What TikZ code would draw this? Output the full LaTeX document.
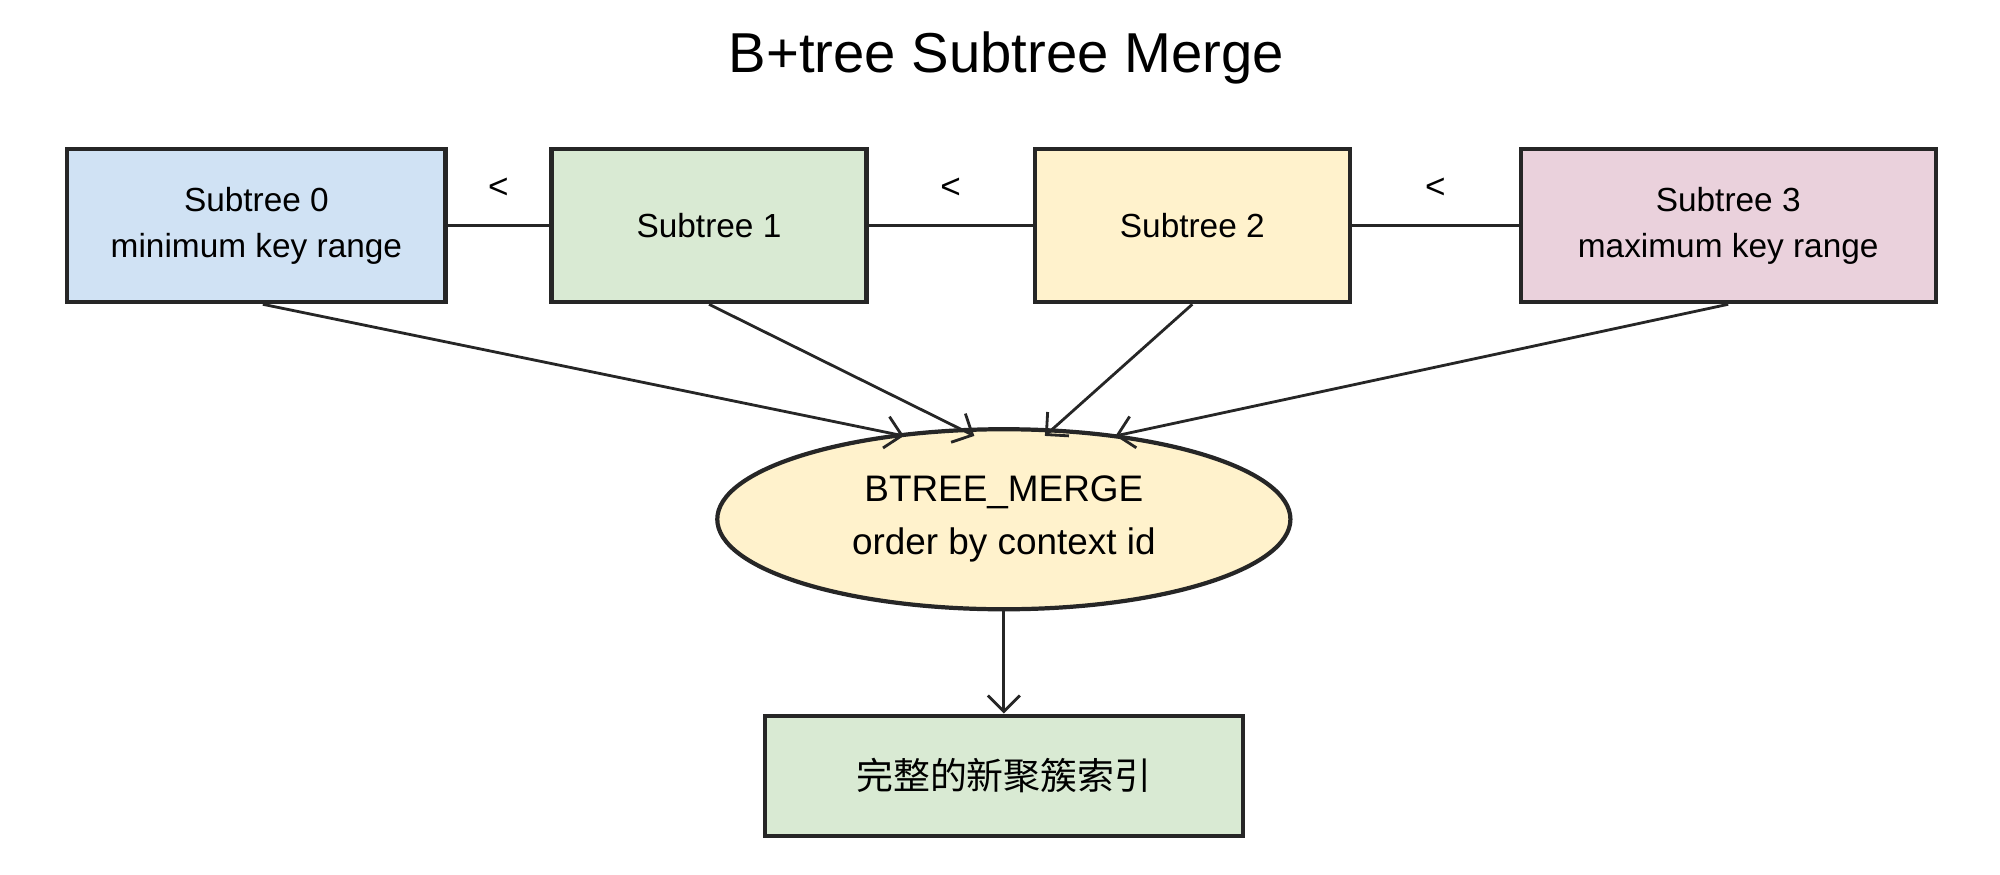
\documentclass[tikz,border=0pt]{standalone}
\usepackage{fontspec}
\setmainfont{Liberation Sans}
\newfontfamily\cjk{Noto Sans CJK SC}
\usetikzlibrary{arrows.meta}
\usetikzlibrary{shapes.geometric}
\usetikzlibrary{positioning}
\definecolor{sblue}{HTML}{D0E2F4}
\definecolor{sgreen}{HTML}{D9EAD3}
\definecolor{syellow}{HTML}{FFF2CC}
\definecolor{spink}{HTML}{EAD1DC}
\tikzset{
	box/.style={draw=black!85, line width=1.2pt, minimum width=3.15cm, minimum height=1.53cm, align=center, font=\fontsize{9.5}{13}\selectfont},
	arr/.style={-{Straight Barb[length=1.6mm]}, draw=black!85, line width=0.8pt},
	link/.style={draw=black!85, line width=0.8pt}
}
\begin{document}
\begin{tikzpicture}[x=0.01282cm, y=-0.01282cm]
	\useasboundingbox (0,0) rectangle (1560,682);
	\node[font=\fontsize{16}{20}\selectfont] (title) at (785,45) {B+tree Subtree Merge};
	
	\begin{scope}[every node/.style={box}]
		\node[fill=sblue, minimum width=3.78cm] (s0) at (200,176) {Subtree 0\\minimum key range};
		\node[fill=sgreen] (s1) at (553,176) {Subtree 1};
		\node[fill=syellow] (s2) at (930,176) {Subtree 2};
		\node[fill=spink, minimum width=4.15cm] (s3) at (1348,176) {Subtree 3\\maximum key range};
		\node[fill=sgreen, minimum width=4.78cm, minimum height=1.2cm, font=\cjk\fontsize{10.5}{14}\selectfont] (idx) at (783,605) {完整的新聚簇索引};
	\end{scope}
	
	\node[ellipse, draw=black!85, line width=1.2pt, fill=syellow, minimum width=5.73cm, minimum height=1.8cm, align=center, font=\fontsize{10.5}{15}\selectfont] (merge) at (783,405) {BTREE\_MERGE\\order by context id};
	
	\path[link] (s0) -- node[above=4pt] {<} (s1);
	\path[link] (s1) -- node[above=4pt] {<} (s2);
	\path[link] (s2) -- node[above=4pt] {<} (s3);
	
	\draw[arr] (s0.south) ++(5,0) -- (705,340);
	\draw[arr] (s1.south) -- (760,340);
	\draw[arr] (s2.south) -- (815,340);
	\draw[arr] (s3.south) -- (870,340);
	\draw[arr] (merge) -- (idx);
\end{tikzpicture}
\end{document}
